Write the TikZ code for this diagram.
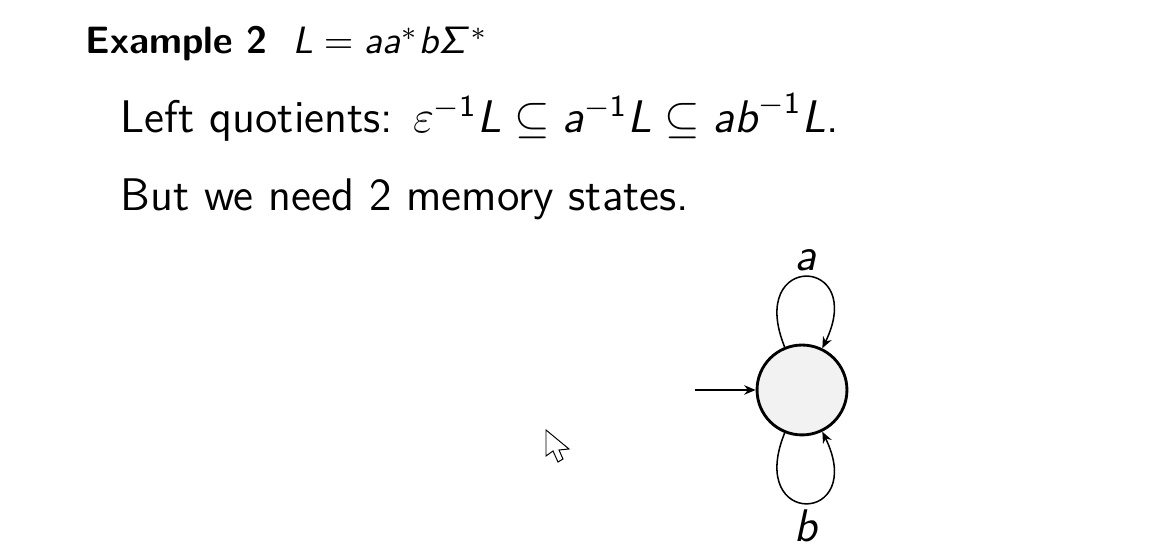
\documentclass[tikz,border=0pt]{standalone}
\usetikzlibrary{arrows.meta,positioning}
\renewcommand{\familydefault}{\sfdefault}
\DeclareMathAlphabet{\mathsfit}{OT1}{cmss}{m}{sl}
\DeclareMathAlphabet{\mathsfup}{OT1}{cmss}{m}{n}
\newcommand{\sv}[1]{\mathsfit{#1}}
\newcommand{\inv}{^{-\mathsfup{1}}}
\tikzset{
    -{Stealth[length=3pt,width=2.5pt]},auto,line width=0.34pt,
    state/.style ={circle, draw, line width=0.75pt, fill=gray!10, minimum size=23.6pt, inner sep=0pt},
    txt/.style = {anchor=base west, inner sep=0pt, font=\fontsize{12}{14}\selectfont},
    head/.style = {txt, font=\fontsize{10}{12}\selectfont},
    lbl/.style = {inner sep=1.5pt, font=\fontsize{12}{14}\selectfont}
}
\begin{document}
\begin{tikzpicture}[x=0.2625pt,y=-0.2625pt]
 \useasboundingbox (0,0) rectangle (1166,544);
 \node[head] (title) at (85,54) {\textbf{Example 2}\hspace{0.65em}$\sv{L} = \sv{aa}^{*}\sv{b}\sv{\Sigma}^{*}$};
    \node[txt] (quot) at (120,133) {Left quotients: $\varepsilon\inv\sv{L} \subseteq \sv{a}\inv\sv{L} \subseteq \sv{ab}\inv\sv{L}$.};
    \node[txt] (need) at (120,211) {But we need 2 memory states.};

    \node[state] (q) at (802,390) {};
    \coordinate (start) at (695,390);

    \path (start) edge (q);
    \path (q) edge[out=112, in=64, looseness=7] node[lbl, above] {$\sv{a}$} (q);
     \path (q) edge[out=-112, in=-64, looseness=7] node[lbl, below] {$\sv{b}$} (q);

    % mouse pointer
    \draw[-, fill=white, line width=0.26pt] (546,430) -- (546,456) -- (553,451) -- (558,462) -- (563,459) -- (559,450) -- (569,449) -- cycle;
\end{tikzpicture}
\end{document}
